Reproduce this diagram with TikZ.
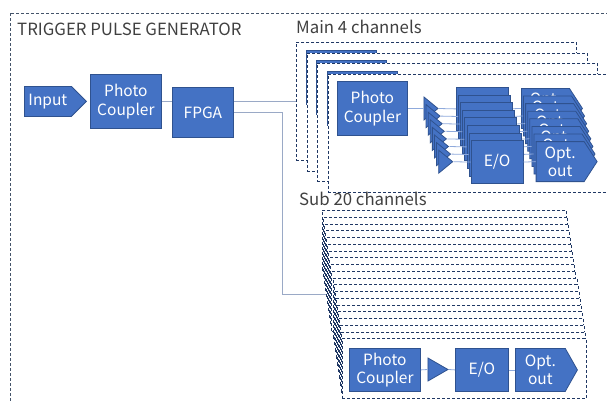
\documentclass[tikz,border=0pt]{standalone}
\usepackage{fontspec}
\setmainfont{Noto Sans CJK JP}
\usetikzlibrary{shapes.geometric,shapes.symbols,backgrounds}
\definecolor{boxblue}{HTML}{4472C4}
\definecolor{boxline}{HTML}{2F528F}
\definecolor{linkgray}{HTML}{9AA9C6}
\definecolor{wireblue}{HTML}{8FAADC}
\definecolor{framenavy}{HTML}{203864}
\definecolor{outergray}{HTML}{44546A}
\begin{document}
\begin{tikzpicture}[x=1pt,y=-1pt,
    blk/.style={draw=boxline,fill=boxblue,text=white,line width=0.8pt,anchor=north west,
      inner sep=0pt,align=center,font=\fontsize{15.5}{18.5}\selectfont},
    sig/.style={blk,signal,signal to=east,signal pointer angle=#1},
    amp/.style={draw=boxline,fill=boxblue,line width=0.8pt,isosceles triangle,
      isosceles triangle stretches,inner sep=0pt,anchor=apex},
    chbox/.style={draw=framenavy,fill=white,line width=0.9pt,dash pattern=on 3pt off 2pt,
      anchor=north west,inner sep=0pt},
    link/.style={linkgray,line width=1pt},
    wire/.style={wireblue,line width=0.8pt},
    lbl/.style={anchor=base west,inner sep=0pt,font=\fontsize{16.8}{18}\selectfont,text=black!75}]
  \useasboundingbox (0,0) rectangle (607,402);
  \clip (0,0) rectangle (607,402);
  % frame of the generator
  \draw[outergray,line width=0.8pt,dash pattern=on 3pt off 2pt] (10,13) rectangle (620,420);
  \node[lbl] (title) at (17,35.7) {TRIGGER PULSE GENERATOR};
  \node[sig=90,minimum width=62,minimum height=30] (in) at (24,86) {Input};
  \node[blk,minimum width=71,minimum height=54] (pc) at (90,74) {Photo\\Coupler};
  \node[blk,minimum width=61,minimum height=50] (fpga) at (172,87) {FPGA};
  \draw[link] (pc.east |- in.east) -- (fpga.west |- in.east);
  % main channels
  \node[lbl] (mainlbl) at (296,33) {Main 4 channels};
  \foreach \k in {0,...,3}{
    \begin{scope}[shift={(10.5*\k,10.5*\k)}]
      \node[chbox,minimum width=280,minimum height=118] (main\k) at (296,42) {};
      \node[blk,minimum width=70,minimum height=54] (pc\k) at (305.5,49.5) {Photo\\Coupler};
      \foreach \i in {0,...,7}{
        \node[amp,minimum width=23,minimum height=14] (amp\k-\i) at (407.5+2.1*\i,77+7.6*\i) {};
        \node[blk,minimum width=52,minimum height=43] (eo\k-\i) at (424.5+2.1*\i,55.5+7.6*\i) {E/O};
        \node[sig=114,minimum width=61,minimum height=40] (opt\k-\i) at (489.5+2.1*\i,56.5+7.6*\i) {Opt.\\out};
        \draw[wire] (amp\k-\i.apex) -- (eo\k-\i.west);
        \draw[wire] (eo\k-\i.east) -- (opt\k-\i.west);
      }
      \draw[wire] (pc\k.east |- amp\k-0.apex) -- (amp\k-0.west);
    \end{scope}
  }
  \draw[link] (fpga.east |- main0.west) -- (main0.west);
  % sub channels
  \node[lbl] (sublbl) at (299,205.7) {Sub 20 channels};
  \foreach \k in {0,...,19}{
    \node[chbox,minimum width=244,minimum height=60] (sub\k) at (322+1.05*\k,210+6.75*\k) {};
  }
  \node[blk,minimum width=71,minimum height=43] (spc) at (349,348) {Photo\\Coupler};
  \node[amp,minimum width=23,minimum height=20] (samp) at (449,369.5) {};
  \node[blk,minimum width=53,minimum height=43] (seo) at (455,348) {E/O};
  \node[sig=121,minimum width=62,minimum height=43] (sopt) at (515,348) {Opt.\\out};
  \draw[wire] (spc.east) -- (samp.west);
  \draw[wire] (samp.apex) -- (seo.west);
  \draw[wire] (seo.east) -- (sopt.west);
  \begin{pgfonlayer}{background}
    \draw[link] (fpga.east) -- ++(49,0) |- (sub8.west);
  \end{pgfonlayer}
\end{tikzpicture}
\end{document}
